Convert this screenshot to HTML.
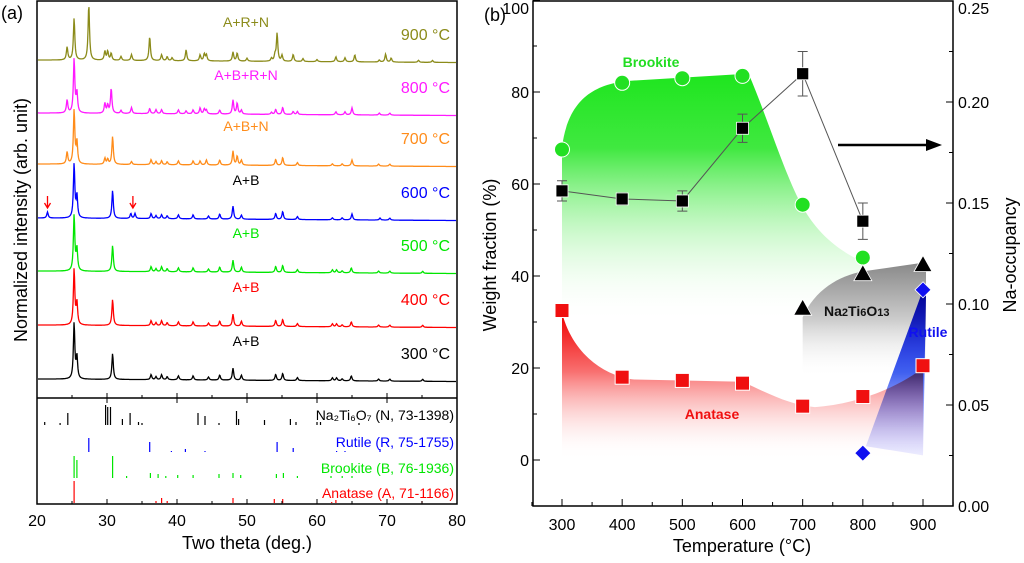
<!DOCTYPE html>
<html><head><meta charset="utf-8"><style>
body{margin:0;background:#fff;}
svg text{font-family:"Liberation Sans",Arial,sans-serif;}
</style></head><body>
<svg width="1024" height="558" viewBox="0 0 1024 558" xmlns="http://www.w3.org/2000/svg">
<defs>
<linearGradient id="gG" x1="0" y1="0" x2="0" y2="1" gradientUnits="objectBoundingBox"><stop offset="0" stop-color="#1ee61e"/><stop offset="0.3" stop-color="#40e840"/><stop offset="1" stop-color="#fff" stop-opacity="0"/></linearGradient>
<linearGradient id="gR" x1="0" y1="0" x2="0" y2="1"><stop offset="0" stop-color="#f00000"/><stop offset="0.4" stop-color="#f87070"/><stop offset="1" stop-color="#fff" stop-opacity="0"/></linearGradient>
<linearGradient id="gK" x1="0" y1="0" x2="0" y2="1"><stop offset="0" stop-color="#888"/><stop offset="0.5" stop-color="#ccc"/><stop offset="1" stop-color="#fff" stop-opacity="0"/></linearGradient>
<linearGradient id="gB" x1="0" y1="0" x2="0" y2="1"><stop offset="0" stop-color="#0000e0"/><stop offset="0.5" stop-color="#4060f0"/><stop offset="1" stop-color="#a0a0ff" stop-opacity="0.2"/></linearGradient>
</defs>
<g id="pa"></g>
<g id="pb"></g>
</svg>
<script>
const NS='http://www.w3.org/2000/svg';
function mk(p,t,a,txt){const e=document.createElementNS(NS,t);for(const k in a)e.setAttribute(k,a[k]);if(txt!==undefined)e.textContent=txt;p.appendChild(e);return e;}

// ---------- Panel (a) data ----------
const xrdTemps=['900 °C','800 °C','700 °C','600 °C','500 °C','400 °C','300 °C'];
const xrdPhases=['A+R+N','A+B+R+N','A+B+N','A+B','A+B','A+B','A+B'];
const xrdColors=['#8b8b1a','#ff1aff','#ff8c1a','#0000ff','#00e600','#ff0000','#000000'];
const xrdPhaseColors=['#8b8b1a','#ff1aff','#ff8c1a','#000000','#00e600','#ff0000','#000000'];
const xrdBaselines=[60,113,164,218,271,325,379];
const peaksAB=[[25.3,56],[25.7,22],[30.8,26],[36.3,5],[37.0,3],[37.8,5],[38.6,3],[40.2,4],[42.3,4],[44.5,3],[46.1,5],[48.0,12],[49.2,5],[54.1,6],[55.1,7],[57.2,3],[62.2,3],[62.8,3],[63.6,2],[64.9,5],[68.8,2],[70.4,2],[75.1,2]];
const peaks900=[[24.3,13],[25.3,42],[27.4,56],[29.7,9],[30.1,9],[30.6,7],[32.0,4],[33.5,6],[36.1,24],[37.8,6],[38.6,4],[39.3,3],[41.3,11],[43.3,6],[43.9,7],[44.2,6],[48.0,9],[48.6,8],[50.0,3],[53.5,3],[54.0,6],[54.3,28],[55.0,6],[56.6,7],[58.0,3],[60.0,2],[62.7,5],[64.0,4],[65.4,7],[68.9,2],[69.8,8],[70.6,4],[74.5,2],[76.5,2]];
const peaks800=[[24.3,13],[25.3,54],[25.7,20],[29.7,10],[30.1,8],[30.6,25],[32.0,3],[33.5,6],[36.1,5],[37.0,4],[37.8,4],[40.2,4],[41.3,3],[42.3,4],[43.3,6],[43.9,5],[44.2,4],[46.1,4],[48.0,14],[48.6,11],[49.2,4],[53.5,2],[54.1,5],[55.1,7],[56.6,3],[57.2,3],[62.7,3],[64.0,3],[65.0,7],[68.9,2],[70.4,2]];
const peaks700=[[24.3,12],[25.3,54],[25.7,22],[29.7,6],[30.1,5],[30.8,28],[33.5,3],[36.3,5],[37.0,3],[37.8,4],[38.6,3],[40.2,4],[42.3,4],[43.3,4],[44.2,5],[46.1,5],[48.0,14],[48.6,9],[49.2,5],[54.1,6],[55.1,8],[57.2,3],[62.2,2],[63.6,2],[65.0,6],[68.8,2],[70.4,2]];
const peaks600=[[21.5,6],[25.3,54],[25.7,22],[30.8,28],[33.4,5],[34.0,5],[36.3,5],[37.0,3],[37.8,4],[38.6,3],[40.2,4],[42.3,4],[44.5,3],[46.1,5],[48.0,13],[49.2,4],[54.1,6],[55.1,8],[57.2,3],[62.2,2],[63.6,2],[65.0,6],[69.0,2],[70.4,2]];
const xrdPeaks=[peaks900,peaks800,peaks700,peaks600,peaksAB,peaksAB,peaksAB];
const stickN=[[21.1,3],[23.3,2],[24.4,12],[29.8,20],[30.1,18],[30.5,18],[32.2,6],[33.3,12],[34.5,3],[35.0,2],[43.0,12],[44.0,9],[46.0,2],[48.5,14],[48.8,6],[52.5,5],[56.2,6],[57.0,3],[60.0,3],[60.5,3],[66.0,2]];
const stickR=[[27.4,14],[36.1,10],[39.2,1],[41.2,3],[44.0,1],[54.3,10],[56.6,4],[62.8,1],[64.0,1],[69.0,3]];
const stickB=[[25.3,22],[25.7,18],[30.8,22],[32.8,2],[36.2,5],[37.3,4],[38.4,2],[40.1,3],[42.3,3],[46.0,4],[48.0,5],[49.1,3],[54.2,4],[55.2,5],[57.2,2],[62.0,2],[63.6,2],[65.0,2]];
const stickA=[[25.3,22],[37.0,2],[37.8,5],[38.6,2],[48.0,5],[53.9,4],[55.1,4],[62.1,1],[62.7,3],[75.0,2]];
const stickNames=['Na₂Ti₆O₇ (N, 73-1398)','Rutile (R, 75-1755)','Brookite (B, 76-1936)','Anatase (A, 71-1166)'];
const stickColors=['#000','#0000ff','#00e600','#ff0000'];
const stickBase=[425,452,478,503];
const stickSets=[stickN,stickR,stickB,stickA];
const xTicksA=[20,30,40,50,60,70,80];

const pa=document.getElementById('pa');
const AL=37,AR=457,AT=1,AB=504,ADIV=398;
const ax=t=>AL+(t-20)*(AR-AL)/60;
xrdPeaks.forEach((pk,i)=>{
  let d='';
  for(let px=AL+1;px<=AR-1;px+=0.5){
    const t=20+(px-AL)*60/(AR-AL);
    let y=0;pk.forEach(([c,h])=>{const w=0.12;y+=h/(1+((t-c)/w)**2);});
    const b=xrdBaselines[i]+ (px-AL)*0.006;
    d+=(d?'L':'M')+px.toFixed(1)+' '+(b-y).toFixed(1);
  }
  const p=mk(pa,'path',{d:d,fill:'none',stroke:xrdColors[i],'stroke-width':1.3});
  
  
  const t1=mk(pa,'text',{x:450,y:xrdBaselines[i]-20,'font-size':16,fill:xrdColors[i],'text-anchor':'end'},xrdTemps[i]);
  
  
  const t2=mk(pa,'text',{x:246,y:xrdBaselines[i]-33,'font-size':14,fill:xrdPhaseColors[i],'text-anchor':'middle'},xrdPhases[i]);
  
  
});
[21.5,33.7].forEach(t=>{const g=mk(pa,'path',{d:`M${ax(t)} 196 L${ax(t)} 207 M${ax(t)-3} 203 L${ax(t)} 208 L${ax(t)+3} 203`,stroke:'#f00',fill:'none','stroke-width':1.3});});
stickSets.forEach((s,i)=>{
  s.forEach(([c,h])=>{const l=mk(pa,'line',{x1:ax(c),x2:ax(c),y1:stickBase[i],y2:stickBase[i]-h,stroke:stickColors[i],'stroke-width':1.2});});
  const t=mk(pa,'text',{x:454,y:stickBase[i]-5,'font-size':14,fill:stickColors[i],'text-anchor':'end'},stickNames[i]);
  
  
});
mk(pa,'rect',{x:AL,y:AT,width:AR-AL,height:AB-AT,fill:'none',stroke:'#000','stroke-width':1.5,});
mk(pa,'line',{x1:AL,x2:AR,y1:ADIV,y2:ADIV,stroke:'#000','stroke-width':1.5,});
xTicksA.forEach(v=>{
  mk(pa,'line',{x1:ax(v),x2:ax(v),y1:AB,y2:AB-5,stroke:'#000'});
  mk(pa,'line',{x1:ax(v),x2:ax(v),y1:ADIV,y2:ADIV+5,stroke:'#000'});
  mk(pa,'line',{x1:ax(v),x2:ax(v),y1:ADIV,y2:ADIV-5,stroke:'#000'});
  const t=mk(pa,'text',{x:ax(v),y:526,'font-size':16,'text-anchor':'middle'},v);
  
  
  if(v<80){const m=ax(v+5);mk(pa,'line',{x1:m,x2:m,y1:AB,y2:AB-3,stroke:'#000'});mk(pa,'line',{x1:m,x2:m,y1:ADIV,y2:ADIV-3,stroke:'#000'});}
});
mk(pa,'text',{x:247,y:549,'font-size':18,'text-anchor':'middle',},'Two theta (deg.)');
mk(pa,'text',{x:0,y:0,'font-size':18,'text-anchor':'middle',transform:'translate(27,220) rotate(-90)',},'Normalized intensity (arb. unit)');
mk(pa,'text',{x:1,y:19,'font-size':18,},'(a)');

// ---------- Panel (b) data ----------
const temps=[300,400,500,600,700,800,900];
const brookite=[67.5,82,83,83.5,55.5,44,null];
const anatase=[32.5,18,17.3,16.7,11.7,13.8,20.5];
const na2ti6o13=[null,null,null,null,33,40.5,42.5];
const rutile=[null,null,null,null,null,1.5,37];
const naOcc=[0.156,0.152,0.151,0.187,0.214,0.141,null];
const naErr=[0.005,0.003,0.005,0.007,0.011,0.009,null];
const yTicksL=[0,20,40,60,80,100];
const yTicksR=[0,0.05,0.10,0.15,0.20,0.25];

const pb=document.getElementById('pb');
const BL=533,BR=953,BT=1,BB=506;
const bx=t=>562+(t-300)*(923-562)/600;
const by=v=>460-v*4.6;
const byr=v=>506-v*2020;

mk(pb,'path',{d:`M${bx(300)} ${by(68)} C${bx(310)} ${by(78)} ${bx(350)} ${by(82)} ${bx(420)} ${by(82.5)} L${bx(610)} ${by(84)} C${bx(640)} ${by(75)} ${bx(670)} ${by(62)} ${bx(700)} ${by(55)} C${bx(730)} ${by(48)} ${bx(770)} ${by(45)} ${bx(800)} ${by(43)} L${bx(800)} ${by(30)} L${bx(300)} ${by(30)} Z`,fill:'url(#gG)',});
mk(pb,'path',{d:`M${bx(700)} ${by(31)} C${bx(720)} ${by(37)} ${bx(760)} ${by(40)} ${bx(800)} ${by(41)} L${bx(905)} ${by(43)} L${bx(905)} ${by(18)} L${bx(700)} ${by(18)} Z`,fill:'url(#gK)',});
mk(pb,'path',{d:`M${bx(300)} ${by(32)} C${bx(320)} ${by(22)} ${bx(380)} ${by(18)} ${bx(420)} ${by(17.5)} L${bx(600)} ${by(17)} C${bx(650)} ${by(14)} ${bx(680)} ${by(12)} ${bx(720)} ${by(11.5)} C${bx(780)} ${by(12)} ${bx(850)} ${by(15)} ${bx(900)} ${by(20)} L${bx(900)} ${by(0)} L${bx(300)} ${by(0)} Z`,fill:'url(#gR)',});
mk(pb,'path',{d:`M${bx(805)} ${by(3)} L${bx(900)} ${by(37)} L${bx(905)} ${by(36)} L${bx(900)} ${by(1)} Z`,fill:'url(#gB)',style:'mix-blend-mode:multiply',});

mk(pb,'rect',{x:BL,y:BT,width:BR-BL,height:BB-BT,fill:'none',stroke:'#000','stroke-width':1.5,});
yTicksL.forEach(v=>{mk(pb,'line',{x1:BL,x2:BL+7,y1:by(v),y2:by(v),stroke:'#000'});
  if(v<100)mk(pb,'line',{x1:BL,x2:BL+4,y1:by(v+10),y2:by(v+10),stroke:'#000'});
  const t=mk(pb,'text',{x:529,y:Math.max(by(v)+6,14),'font-size':16,'text-anchor':'end'},v);});
mk(pb,'line',{x1:BL,x2:BL+4,y1:by(-10),y2:by(-10),stroke:'#000'});
yTicksR.forEach(v=>{mk(pb,'line',{x1:BR,x2:BR-7,y1:byr(v),y2:byr(v),stroke:'#000'});
  if(v<0.25)mk(pb,'line',{x1:BR,x2:BR-4,y1:byr(v+0.025),y2:byr(v+0.025),stroke:'#000'});
  const t=mk(pb,'text',{x:958,y:Math.min(Math.max(byr(v)+6,14),512),'font-size':16},v.toFixed(2));});
temps.forEach(v=>{mk(pb,'line',{x1:bx(v),x2:bx(v),y1:BB,y2:BB-7,stroke:'#000'});
  mk(pb,'line',{x1:bx(v+50),x2:bx(v+50),y1:BB,y2:BB-4,stroke:'#000'});
  const t=mk(pb,'text',{x:bx(v),y:530,'font-size':16,'text-anchor':'middle'},v);});
mk(pb,'line',{x1:bx(250),x2:bx(250),y1:BB,y2:BB-4,stroke:'#000'});
mk(pb,'text',{x:742,y:552,'font-size':18,'text-anchor':'middle',},'Temperature (°C)');
mk(pb,'text',{x:0,y:0,'font-size':18,'text-anchor':'middle',transform:'translate(496,255) rotate(-90)',},'Weight fraction (%)');
mk(pb,'text',{x:0,y:0,'font-size':18,'text-anchor':'middle',transform:'translate(1016,255) rotate(-90)',},'Na-occupancy');
mk(pb,'text',{x:484,y:21,'font-size':18,},'(b)');

let d='';temps.forEach((t,i)=>{if(naOcc[i]!=null)d+=(d?'L':'M')+bx(t)+' '+byr(naOcc[i]);});
mk(pb,'path',{d:d,fill:'none',stroke:'#555','stroke-width':1,});
temps.forEach((t,i)=>{if(naOcc[i]==null)return;const x=bx(t),y1=byr(naOcc[i]+naErr[i]),y2=byr(naOcc[i]-naErr[i]);
  const e=mk(pb,'path',{d:`M${x} ${y1}L${x} ${y2}M${x-5} ${y1}L${x+5} ${y1}M${x-5} ${y2}L${x+5} ${y2}`,stroke:'#555',fill:'none'});
  const r=mk(pb,'rect',{x:x-6,y:byr(naOcc[i])-6,width:12,height:12,fill:'#000',stroke:'#fff','stroke-width':0.8});});
temps.forEach((t,i)=>{
  if(brookite[i]!=null){const c=mk(pb,'circle',{cx:bx(t),cy:by(brookite[i]),r:7.5,fill:'#22e022',stroke:'#fff','stroke-width':1});}
  if(anatase[i]!=null){const r=mk(pb,'rect',{x:bx(t)-7,y:by(anatase[i])-7,width:14,height:14,fill:'#f01010',stroke:'#fff','stroke-width':1});}
  if(na2ti6o13[i]!=null){const x=bx(t),y=by(na2ti6o13[i]);const p=mk(pb,'path',{d:`M${x} ${y-9}L${x+9} ${y+7}L${x-9} ${y+7}Z`,fill:'#000',stroke:'#fff','stroke-width':0.8});}
  if(rutile[i]!=null){const x=bx(t),y=by(rutile[i]);const p=mk(pb,'path',{d:`M${x} ${y-8}L${x+8} ${y}L${x} ${y+8}L${x-8} ${y}Z`,fill:'#1010f0',stroke:'#fff','stroke-width':0.8});}
});
mk(pb,'text',{x:651,y:67,'font-size':14,'font-weight':'bold',fill:'#22dd22','text-anchor':'middle',},'Brookite');
mk(pb,'text',{x:712,y:419,'font-size':14,'font-weight':'bold',fill:'#f01010','text-anchor':'middle',},'Anatase');
mk(pb,'text',{x:928,y:337,'font-size':14,'font-weight':'bold',fill:'#1010f0','text-anchor':'middle',},'Rutile');
const nt=mk(pb,'text',{x:824,y:316,'font-size':14,'font-weight':'bold',fill:'#111',});
nt.innerHTML='Na<tspan font-size="11">2</tspan>Ti<tspan font-size="11">6</tspan>O<tspan font-size="11">13</tspan>';
mk(pb,'path',{d:'M838 145 L935 145',stroke:'#000','stroke-width':2.5,});
mk(pb,'path',{d:'M926 139 L942 145 L926 151 Z',fill:'#000',});
</script>
</body></html>
